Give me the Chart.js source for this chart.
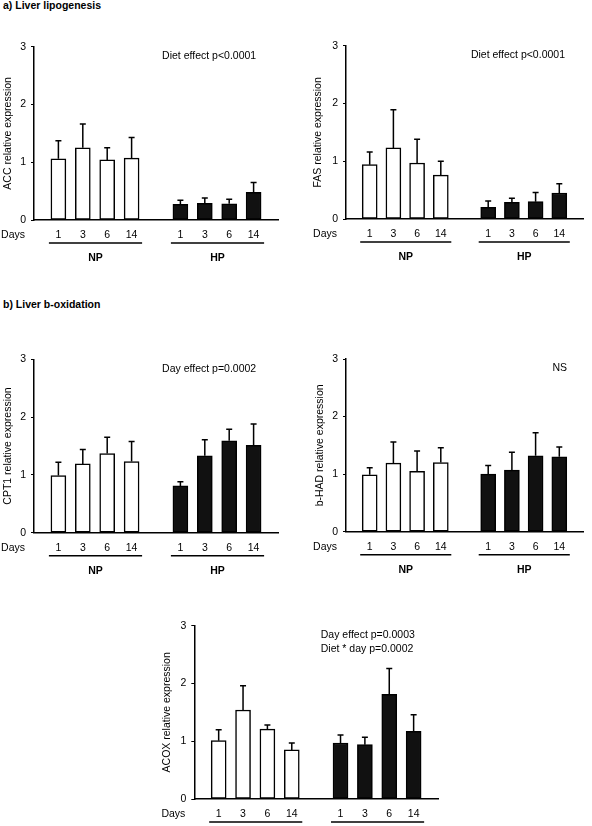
<!DOCTYPE html>
<html>
<head>
<meta charset="utf-8">
<script src="https://cdn.jsdelivr.net/npm/chart.js@4.4.1/dist/chart.umd.min.js"></script>
<style>
  body { margin: 0; background: #fff; width: 592px; height: 826px; position: relative; overflow: hidden;
         font-family: Arial, "Liberation Sans", sans-serif; }
  .sec { position: absolute; left: 3px; font-weight: bold; font-size: 10.5px; line-height: 12px; color: #000; }
  canvas { position: absolute; }
</style>
</head>
<body>
<div class="sec" style="top:-1px">a) Liver lipogenesis</div>
<div class="sec" style="top:298px">b) Liver b-oxidation</div>
<canvas id="acc" width="290" height="245" style="left:0;top:28px"></canvas>
<canvas id="fas" width="292" height="245" style="left:300px;top:28px"></canvas>
<canvas id="cpt1" width="290" height="245" style="left:0;top:340px"></canvas>
<canvas id="bhad" width="292" height="245" style="left:300px;top:340px"></canvas>
<canvas id="acox" width="300" height="226" style="left:150px;top:600px"></canvas>
<script>
const days = ['1', '3', '6', '14'];
const groups = ['NP', 'HP'];

// ACC
const accNP = [1.06, 1.25, 1.04, 1.07];
const accNPsd = [0.31, 0.41, 0.21, 0.36];
const accHP = [0.27, 0.29, 0.28, 0.48];
const accHPsd = [0.07, 0.09, 0.08, 0.17];

// FAS
const fasNP = [0.94, 1.23, 0.97, 0.76];
const fasNPsd = [0.22, 0.66, 0.41, 0.24];
const fasHP = [0.20, 0.29, 0.30, 0.45];
const fasHPsd = [0.11, 0.07, 0.16, 0.16];

// CPT1
const cptNP = [0.99, 1.19, 1.37, 1.23];
const cptNPsd = [0.23, 0.25, 0.28, 0.35];
const cptHP = [0.81, 1.33, 1.59, 1.51];
const cptHPsd = [0.07, 0.28, 0.20, 0.37];

// b-HAD
const hadNP = [0.99, 1.19, 1.05, 1.20];
const hadNPsd = [0.12, 0.37, 0.35, 0.26];
const hadHP = [1.00, 1.07, 1.32, 1.30];
const hadHPsd = [0.15, 0.31, 0.40, 0.17];

// ACOX
const acoxNP = [1.01, 1.54, 1.21, 0.85];
const acoxNPsd = [0.19, 0.42, 0.07, 0.12];
const acoxHP = [0.97, 0.94, 1.81, 1.17];
const acoxHPsd = [0.14, 0.13, 0.45, 0.29];

// one empty slot on each side and between the two diets
const slots = ['', ...days, '', ...days, ''];
const place = (vals, start) => slots.map((_, i) => (i >= start && i < start + vals.length) ? vals[i - start] : null);

const FAMILY = 'Arial, "Liberation Sans", sans-serif';
const font = { family: FAMILY, size: 10.5 };

const errorBars = {
  id: 'errorBars',
  afterDatasetsDraw(chart) {
    const { ctx, scales: { y } } = chart;
    ctx.save();
    ctx.strokeStyle = '#000';
    ctx.lineWidth = 1.5;
    chart.data.datasets.forEach((ds, i) => {
      chart.getDatasetMeta(i).data.forEach((bar, j) => {
        const v = ds.data[j], e = ds.errors[j];
        if (v == null || e == null) return;
        const top = y.getPixelForValue(v + e);
        ctx.beginPath();
        ctx.moveTo(bar.x, bar.y);
        ctx.lineTo(bar.x, top);
        ctx.moveTo(bar.x - 3, top);
        ctx.lineTo(bar.x + 3, top);
        ctx.stroke();
      });
    });
    ctx.restore();
  }
};

const panelDeco = {
  id: 'panelDeco',
  afterDraw(chart, args, opts) {
    const { ctx, chartArea: a, scales: { x } } = chart;
    ctx.save();
    ctx.fillStyle = '#000';
    ctx.strokeStyle = '#000';
    ctx.textBaseline = 'middle';
    ctx.font = '10.5px ' + FAMILY;
    ctx.textAlign = 'right';
    ctx.fillText('Days', a.left - 9, a.bottom + 15.5);
    ctx.textAlign = 'left';
    opts.note.forEach((t, k) => {
      ctx.fillText(t, a.left + opts.noteX * (a.right - a.left), a.top + 9.5 + k * 14);
    });
    ctx.lineWidth = 1.5;
    ctx.font = 'bold 10.5px ' + FAMILY;
    ctx.textAlign = 'center';
    groups.forEach((g, k) => {
      const x1 = x.getPixelForValue(1 + k * 5) - 9.5;
      const x2 = x.getPixelForValue(4 + k * 5) + 10.5;
      ctx.beginPath();
      ctx.moveTo(x1, a.bottom + 23);
      ctx.lineTo(x2, a.bottom + 23);
      ctx.stroke();
      ctx.fillText(g, (x1 + x2) / 2, a.bottom + 38.5);
    });
    ctx.restore();
  }
};

function makePanel(id, box, area, titleX, yTitle, np, npSd, hp, hpSd, note, noteX) {
  const bar = { borderColor: '#000', borderWidth: 1.5, grouped: false, barThickness: 15, borderSkipped: false };
  new Chart(document.getElementById(id), {
    type: 'bar',
    data: {
      labels: slots,
      datasets: [
        { ...bar, label: groups[0], data: place(np, 1), errors: place(npSd, 1), backgroundColor: '#fff' },
        { ...bar, label: groups[1], data: place(hp, 6), errors: place(hpSd, 6), backgroundColor: '#111' }
      ]
    },
    options: {
      responsive: false,
      animation: false,
      layout: { padding: { left: 0, top: area.t - box.y, right: box.x + box.w - area.r, bottom: 0 } },
      plugins: {
        legend: { display: false },
        tooltip: { enabled: false },
        panelDeco: { note: note, noteX: noteX }
      },
      scales: {
        x: {
          type: 'category',
          offset: false,
          grid: { display: false, drawTicks: false },
          border: { color: '#000', width: 1.5 },
          ticks: { color: '#000', font: font, padding: 9, autoSkip: false, maxRotation: 0 },
          afterFit: s => { s.height = box.y + box.h - area.b; }
        },
        y: {
          min: 0,
          max: 3,
          ticks: { stepSize: 1, color: '#000', font: font, padding: 5 },
          grid: { display: true, drawOnChartArea: false, drawTicks: true, tickLength: 3, color: '#000', lineWidth: 1 },
          border: { color: '#000', width: 1.5 },
          title: { display: true, text: yTitle, color: '#000', font: font, padding: { top: titleX - box.x - 6.3, bottom: 0 } },
          afterFit: s => { s.width = area.l - box.x; }
        }
      }
    },
    plugins: [errorBars, panelDeco]
  });
}

makePanel('acc', { x: 0, y: 28, w: 290, h: 245 }, { l: 34, t: 46.7, r: 278, b: 220 }, 8.5,
  'ACC relative expression', accNP, accNPsd, accHP, accHPsd, ['Diet effect p<0.0001'], 0.525);
makePanel('fas', { x: 300, y: 28, w: 292, h: 245 }, { l: 346, t: 45.7, r: 587, b: 219 }, 318,
  'FAS relative expression', fasNP, fasNPsd, fasHP, fasHPsd, ['Diet effect p<0.0001'], 0.527);
makePanel('cpt1', { x: 0, y: 340, w: 290, h: 245 }, { l: 34, t: 359.3, r: 278, b: 532.7 }, 8.5,
  'CPT1 relative expression', cptNP, cptNPsd, cptHP, cptHPsd, ['Day effect p=0.0002'], 0.525);
makePanel('bhad', { x: 300, y: 340, w: 292, h: 245 }, { l: 346, t: 359, r: 587, b: 531.7 }, 320,
  'b-HAD relative expression', hadNP, hadNPsd, hadHP, hadHPsd, ['NS'], 0.871);
makePanel('acox', { x: 150, y: 600, w: 300, h: 226 }, { l: 194.3, t: 625.7, r: 438, b: 799 }, 167.5,
  'ACOX relative expression', acoxNP, acoxNPsd, acoxHP, acoxHPsd, ['Day effect p=0.0003', 'Diet * day p=0.0002'], 0.519);
</script>
</body>
</html>
